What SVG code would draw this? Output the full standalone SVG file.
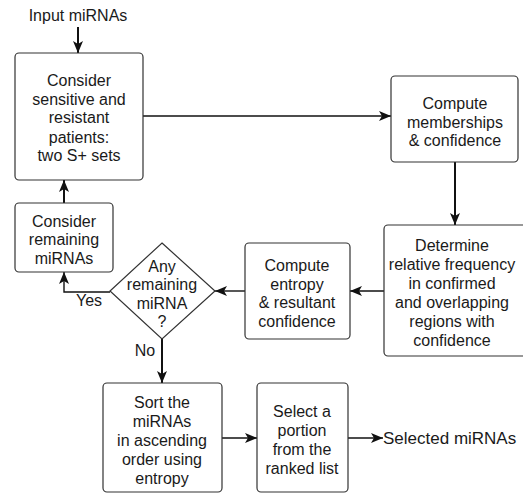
<svg xmlns="http://www.w3.org/2000/svg" width="523" height="495" viewBox="0 0 523 495">
<style>
.b{fill:#fff;stroke:#333;stroke-width:1.2}
.t{font-family:"Liberation Sans",Arial,sans-serif;font-size:16px;fill:#1a1a1a;text-anchor:middle;dominant-baseline:central}
.l{fill:none;stroke:#111;stroke-width:1.4}
.k{fill:none;stroke:#111;stroke-width:2}
</style>
<defs>
<marker id="a" viewBox="0 0 12 10" refX="12" refY="5" markerWidth="12" markerHeight="10" markerUnits="userSpaceOnUse" orient="auto">
<path d="M0,0 L12,5 L0,10 L3,5 Z" fill="#111"/>
</marker>
</defs>
<rect width="523" height="495" fill="#fff"/>
<g id="connectors">
<path class="k" d="M78,27 V53" marker-end="url(#a)"/>
<path class="l" d="M143,116 H391" marker-end="url(#a)"/>
<path class="k" d="M455,162 V225" marker-end="url(#a)"/>
<path class="l" d="M384,291 H350" marker-end="url(#a)"/>
<path class="l" d="M245,291 H215" marker-end="url(#a)"/>
<path class="l" d="M110,292 H64 V272" marker-end="url(#a)"/>
<path class="k" d="M64,203 V180" marker-end="url(#a)"/>
<path class="k" d="M162,339 V383" marker-end="url(#a)"/>
<path class="l" d="M222,438 H257" marker-end="url(#a)"/>
<path class="l" d="M348,438 H383" marker-end="url(#a)"/>
</g>
<g id="input"><text class="t" x="78" y="15">Input miRNAs</text></g>
<g id="consider-sensitive">
<rect class="b" x="15" y="53" width="128" height="127" rx="4"/>
<text class="t" x="79" y="80">Consider</text>
<text class="t" x="79" y="99">sensitive and</text>
<text class="t" x="79" y="117">resistant</text>
<text class="t" x="79" y="137">patients:</text>
<text class="t" x="79" y="155">two S+ sets</text>
</g>
<g id="compute-memberships">
<rect class="b" x="391" y="76" width="127" height="86" rx="4"/>
<text class="t" x="455" y="103">Compute</text>
<text class="t" x="455" y="122">memberships</text>
<text class="t" x="455" y="140">&amp; confidence</text>
</g>
<g id="determine">
<rect class="b" x="384" y="225" width="145" height="131" rx="4"/>
<text class="t" x="452" y="245">Determine</text>
<text class="t" x="452" y="264">relative frequency</text>
<text class="t" x="452" y="283">in confirmed</text>
<text class="t" x="452" y="302">and overlapping</text>
<text class="t" x="452" y="321">regions with</text>
<text class="t" x="452" y="340">confidence</text>
</g>
<g id="compute-entropy">
<rect class="b" x="245" y="243" width="105" height="96" rx="4"/>
<text class="t" x="297" y="265">Compute</text>
<text class="t" x="297" y="284">entropy</text>
<text class="t" x="297" y="302">&amp; resultant</text>
<text class="t" x="297" y="321">confidence</text>
</g>
<g id="decision">
<path class="b" d="M162,243 L215,291 L162,339 L110,291 Z"/>
<text class="t" x="162" y="266">Any</text>
<text class="t" x="162" y="284">remaining</text>
<text class="t" x="162" y="303">miRNA</text>
<text class="t" x="162" y="321">?</text>
</g>
<g id="consider-remaining">
<rect class="b" x="15" y="203" width="98" height="69" rx="4"/>
<text class="t" x="64" y="221">Consider</text>
<text class="t" x="64" y="239">remaining</text>
<text class="t" x="64" y="258">miRNAs</text>
</g>
<g id="labels">
<text class="t" x="89" y="300">Yes</text>
<text class="t" x="145" y="350">No</text>
</g>
<g id="sort">
<rect class="b" x="103" y="383" width="119" height="109" rx="4"/>
<text class="t" x="162" y="402">Sort the</text>
<text class="t" x="162" y="421">miRNAs</text>
<text class="t" x="162" y="440">in ascending</text>
<text class="t" x="162" y="459">order using</text>
<text class="t" x="162" y="478">entropy</text>
</g>
<g id="select">
<rect class="b" x="257" y="383" width="91" height="109" rx="4"/>
<text class="t" x="302" y="411">Select a</text>
<text class="t" x="302" y="430">portion</text>
<text class="t" x="302" y="449">from the</text>
<text class="t" x="302" y="468">ranked list</text>
</g>
<g id="output"><text class="t" x="383" y="438" style="text-anchor:start;font-size:17px">Selected miRNAs</text></g>
</svg>
